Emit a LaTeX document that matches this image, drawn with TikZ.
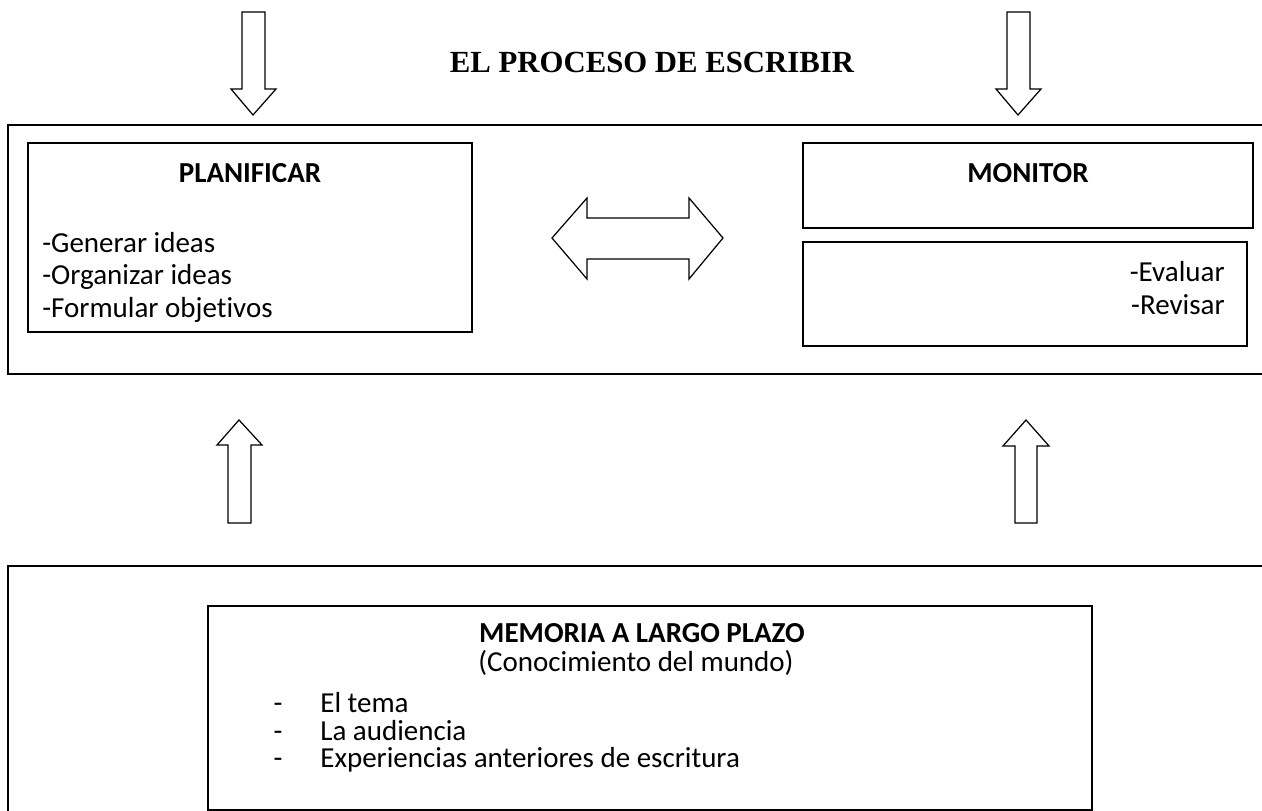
\documentclass[tikz,border=0pt]{standalone}
\usepackage{fontspec}
\setmainfont{Carlito}[Ligatures=NoCommon]
\newfontfamily\titlefont{Liberation Serif}
\tikzset{
  frame/.style={line width=0.8pt},
  blockarrow/.style={line width=0.7pt, fill=white},
  label/.style={font=\fontsize{16.5}{19}\selectfont, inner sep=0pt},
  bullet/.style={label, text height=11pt, text depth=2.5pt},
}
\begin{document}
\begin{tikzpicture}[x=0.02cm, y=-0.02cm]
        \useasboundingbox (0,0) rectangle (1262,811);

        % Title
        \node[inner sep=0pt, font=\titlefont\bfseries\fontsize{17.5}{20}\selectfont] (title) at (652,62) {EL PROCESO DE ESCRIBIR};

        % Outer frames (open on the right)
        \draw[frame] (1265,125) -- (8,125) -- (8,374) -- (1265,374);
        \draw[frame] (1265,566) -- (8,566) -- (8,815);

        % Inner boxes
        \draw[frame] (28,143) rectangle (472,332);
        \draw[frame] (803,143) rectangle (1253,228);
        \draw[frame] (803,242) rectangle (1247,346);
        \draw[frame] (208,606) rectangle (1092,810);

        % Texts
        \node[label, font=\fontsize{16.5}{19}\selectfont\bfseries] (plan) at (250,173) {PLANIFICAR};
        \node[label, anchor=west] (gen) at (42,243) {-Generar ideas};
        \node[label, anchor=west] (org) at (42,277) {-Organizar ideas};
        \node[label, anchor=west] (form) at (42,310) {-Formular objetivos};

        \node[label, font=\fontsize{16.5}{19}\selectfont\bfseries] (mon) at (1028,173) {MONITOR};
        \node[label, anchor=east] (eval) at (1225,272) {-Evaluar};
        \node[label, anchor=east] (rev) at (1225,305) {-Revisar};

        \node[label, font=\fontsize{16.5}{19}\selectfont\bfseries] (mem) at (642,633) {MEMORIA A LARGO PLAZO};
        \node[label] (mundo) at (636,663) {(Conocimiento del mundo)};
        \node[bullet] (d1) at (278,705.5) {-};
        \node[bullet, anchor=west] (tema) at (320,705.5) {El tema};
        \node[bullet] (d2) at (278,733.5) {-};
        \node[bullet, anchor=west] (aud) at (320,733.5) {La audiencia};
        \node[bullet] (d3) at (278,760.5) {-};
        \node[bullet, anchor=west] (exp) at (320,760.5) {Experiencias anteriores de escritura};

        % Block arrows into the top frame
        \draw[blockarrow] (242,12) -- (265,12) -- (265,89) -- (276,89) -- (253,115) -- (231,89) -- (242,89) -- cycle;
        \draw[blockarrow] (1007,12) -- (1030,12) -- (1030,89) -- (1041,89) -- (1018,115) -- (996,89) -- (1007,89) -- cycle;

        % Block arrows up from memory
        \draw[blockarrow] (228,523) -- (228,445) -- (217,445) -- (239,420) -- (262,445) -- (251,445) -- (251,523) -- cycle;
        \draw[blockarrow] (1015,523) -- (1015,446) -- (1003,446) -- (1026,420) -- (1049,446) -- (1037,446) -- (1037,523) -- cycle;

        % Double arrow between planificar and monitor
        \draw[blockarrow] (552,238) -- (587,198) -- (587,218) -- (689,218) -- (689,198) -- (723,238)
          -- (689,279) -- (689,259) -- (587,259) -- (587,279) -- cycle;
\end{tikzpicture}
\end{document}
